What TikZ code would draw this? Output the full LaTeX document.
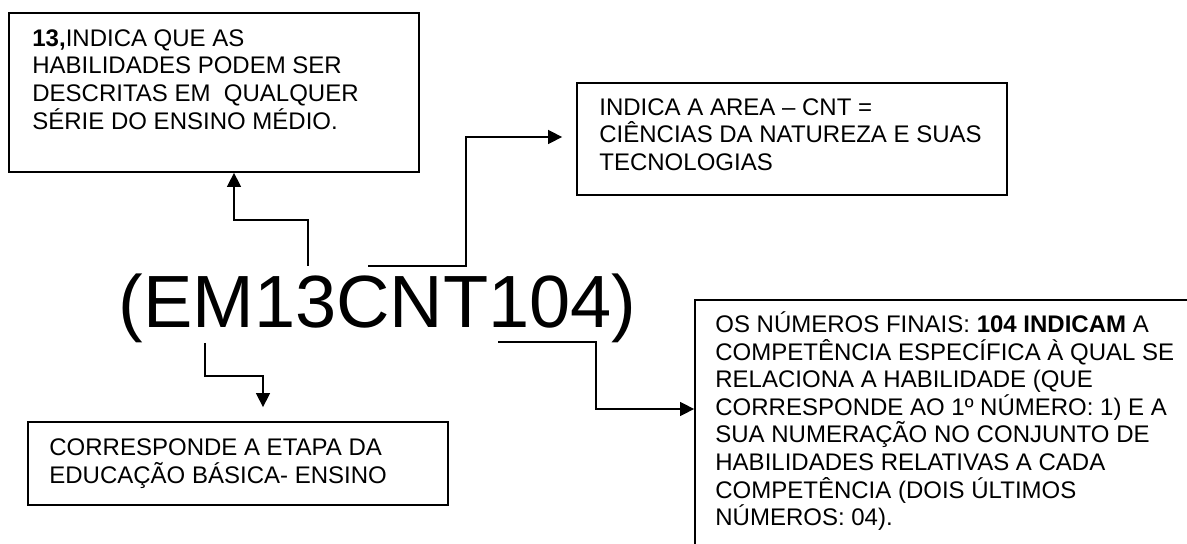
\documentclass[tikz,border=0pt]{standalone}
\usepackage{fontspec}
\setmainfont{Liberation Sans}
\usetikzlibrary{arrows.meta,fit}

\tikzset{
  frame/.style={draw=black, line width=0.9pt, inner sep=0pt, fit=#1},
  boxtext/.style={anchor=north west, inner sep=0pt, align=left,
                  font=\fontsize{12}{13.8}\selectfont},
  link/.style={draw=black, line width=0.75pt,
               -{Triangle[length=7pt,width=7pt]}},
}

\begin{document}
\begin{tikzpicture}[x=0.5pt,y=-0.5pt]
  \clip (0,0) rectangle (1187,544);
  \fill[white] (0,0) rectangle (1187,544);

  % box corners
  \coordinate (b1a) at (9,13);    \coordinate (b1b) at (419,172);
  \coordinate (b2a) at (577,83);  \coordinate (b2b) at (1007,195);
  \coordinate (b3a) at (28,422);  \coordinate (b3b) at (448,505);
  \coordinate (b4a) at (695,300); \coordinate (b4b) at (1230,580);

  \node[frame=(b1a)(b1b)] (box1) {};
  \node[frame=(b2a)(b2b)] (box2) {};
  \node[frame=(b3a)(b3b)] (box3) {};
  \node[frame=(b4a)(b4b)] (box4) {};

  % box texts
  \node[boxtext] (t1) at (32,22) {\rule{0pt}{12pt}\textbf{13,}INDICA QUE AS\\
    HABILIDADES PODEM SER\\
    DESCRITAS EM\ \ QUALQUER\\
    SÉRIE DO ENSINO MÉDIO.};
  \node[boxtext] (t2) at (599,91) {\rule{0pt}{12pt}INDICA A AREA – CNT =\\
    CIÊNCIAS DA NATUREZA E SUAS\\
    TECNOLOGIAS};
  \node[boxtext] (t3) at (49,431) {\rule{0pt}{12pt}CORRESPONDE A ETAPA DA\\
    EDUCAÇÃO BÁSICA- ENSINO};
  \node[boxtext] (t4) at (715,308) {\rule{0pt}{12pt}OS NÚMEROS FINAIS: \textbf{104 INDICAM} A\\
    COMPETÊNCIA ESPECÍFICA À QUAL SE\\
    RELACIONA A HABILIDADE (QUE\\
    CORRESPONDE AO 1º NÚMERO: 1) E A\\
    SUA NUMERAÇÃO NO CONJUNTO DE\\
    HABILIDADES RELATIVAS A CADA\\
    COMPETÊNCIA (DOIS ÚLTIMOS\\
    NÚMEROS: 04).};

  % the code itself
  \node[anchor=base, inner sep=0pt, font=\fontsize{37}{40}\selectfont]
    (code) at (377.5,328) {(EM13CNT104)};

  % connector start points and bends
  \coordinate (s1) at (308,266); \coordinate (k1) at (234,220);
  \coordinate (s2) at (368,266); \coordinate (k2) at (466,137);
  \coordinate (s3) at (205,343); \coordinate (k3) at (263,376);
  \coordinate (s4) at (498,342); \coordinate (k4) at (596,409);

  \draw[link] (s1) -- (s1 |- k1) -- (k1) -- (k1 |- box1.south);
  \draw[link, shorten >=7pt] (s2) -- (s2 -| k2) -- (k2) -- (k2 -| box2.west);
  \draw[link, shorten >=7pt] (s3) -- (s3 |- k3) -- (k3) -- (k3 |- box3.north);
  \draw[link] (s4) -- (s4 -| k4) -- (k4) -- (k4 -| box4.west);
\end{tikzpicture}
\end{document}
